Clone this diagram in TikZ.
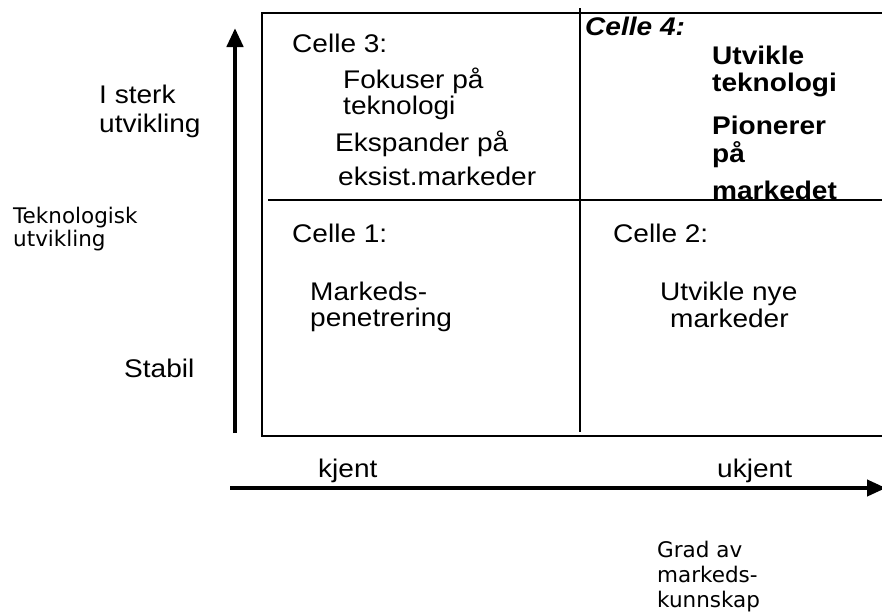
\documentclass[tikz,border=0pt]{standalone}
\usepackage{fontspec}
\setmainfont{Liberation Sans}[FakeStretch=1.1]
\newfontfamily\captionsans{DejaVu Sans}
\usetikzlibrary{arrows.meta}

\begin{document}
\begin{tikzpicture}[x=1pt, y=-1pt,
  gridline/.style={line width=1.8pt},
  axisline/.style={line width=4.5pt, -{Triangle[length=19pt,width=16pt]}},
  txt/.style={anchor=base west, inner sep=0pt, font=\fontsize{25.5}{27}\selectfont},
  boldtxt/.style={anchor=base west, inner sep=0pt, font=\fontsize{25.5}{27}\selectfont\bfseries},
  celltitle/.style={anchor=base west, inner sep=0pt, font=\fontsize{25.5}{27}\selectfont\bfseries\itshape},
  axiscaption/.style={anchor=base west, inner sep=0pt, font=\captionsans\fontsize{21.5}{24}\selectfont}]

\useasboundingbox (0,0) rectangle (882,611);
\clip (0,0) rectangle (882,611);

% corners of the matrix and its dividing lines
\coordinate (tl) at (262,13);
\coordinate (tr) at (884,13);
\coordinate (bl) at (262,436);
\coordinate (br) at (884,436);
\coordinate (mt) at (580,8);
\coordinate (mb) at (580,432);
\coordinate (ml) at (268,200);
\coordinate (mr) at (884,200);

\draw[gridline] (tr) -- (tl) -- (bl) -- (br);
\draw[gridline] (mt) -- (mb);
\draw[gridline] (ml) -- (mr);

% axes
\coordinate (vstart) at (235,433);
\coordinate (vend) at (235,28);
\coordinate (hstart) at (230,488);
\coordinate (hend) at (886,488);
\draw[axisline] (vstart) -- (vend);
\draw[axisline, line width=4pt] (hstart) -- (hend);

% vertical axis labels
\node[txt] (sterk1) at (99,103) {I sterk};
\node[txt] (sterk2) at (99,132) {utvikling};
\node[txt] (stabil) at (124,377) {Stabil};
\node[axiscaption] (tek1) at (13,223) {Teknologisk};
\node[axiscaption] (tek2) at (13,246) {utvikling};

% horizontal axis labels
\node[txt] (kjent) at (318,477) {kjent};
\node[txt] (ukjent) at (717,477) {ukjent};
\node[axiscaption] (grad1) at (657,557) {Grad av};
\node[axiscaption] (grad2) at (657,582) {markeds-};
\node[axiscaption] (grad3) at (657,607) {kunnskap};

% cell 3
\node[txt] (c3) at (292,52) {Celle 3:};
\node[txt] (c3a) at (343,88) {Fokuser på};
\node[txt] (c3b) at (343,114) {teknologi};
\node[txt] (c3c) at (335,151) {Ekspander på};
\node[txt] (c3d) at (338,185) {eksist.markeder};

% cell 4
\node[celltitle] (c4) at (585,35) {Celle 4:};
\node[boldtxt] (c4a) at (712,64) {Utvikle};
\node[boldtxt] (c4b) at (712,91) {teknologi};
\node[boldtxt] (c4c) at (712,134) {Pionerer};
\node[boldtxt] (c4d) at (712,162) {på};
\node[boldtxt] (c4e) at (712,199) {markedet};

% cell 1
\node[txt] (c1) at (292,242) {Celle 1:};
\node[txt] (c1a) at (310,300) {Markeds-};
\node[txt] (c1b) at (310,326) {penetrering};

% cell 2
\node[txt] (c2) at (613,242) {Celle 2:};
\node[txt] (c2a) at (660,300) {Utvikle nye};
\node[txt] (c2b) at (670,327) {markeder};
\end{tikzpicture}
\end{document}
